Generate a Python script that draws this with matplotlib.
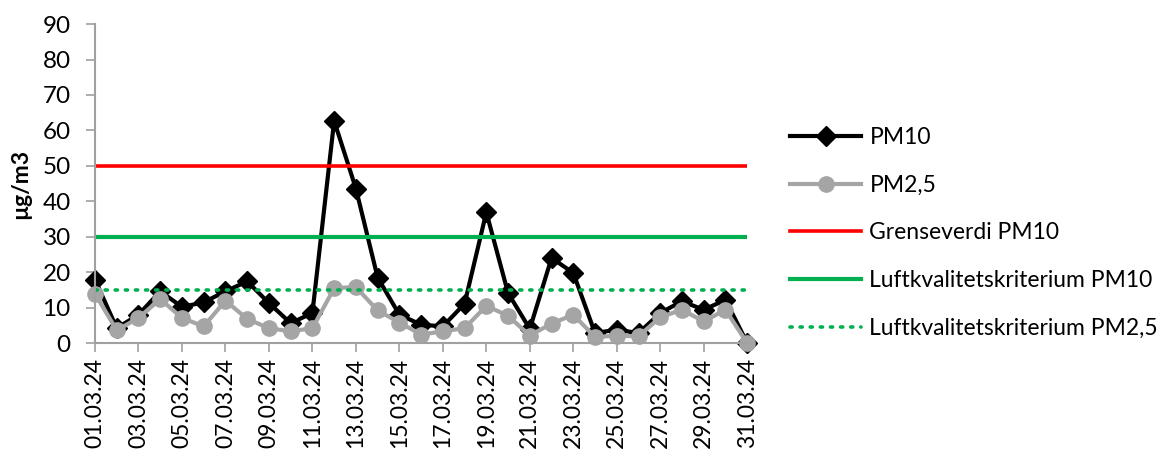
import matplotlib
matplotlib.use('Agg')
from matplotlib import pyplot as plt

plt.rcParams['font.family'] = ['Lato', 'DejaVu Sans']

# data (March 2024)
days = list(range(1, 32))
dates = ['%02d.03.24' % d for d in days]
pm10 = [17.9, 4.2, 8.0, 14.6, 10.2, 11.5, 14.6, 17.4, 11.3, 5.6,
        8.5, 62.7, 43.6, 18.5, 8.0, 5.2, 4.7, 11.1, 36.9, 14.1,
        4.0, 24.0, 19.8, 2.8, 3.8, 2.8, 8.5, 11.8, 9.4, 12.2, 0.0]
pm25 = [13.9, 3.6, 7.1, 12.4, 7.1, 4.7, 12.0, 6.8, 4.2, 3.3,
        4.2, 15.5, 15.8, 9.2, 5.8, 2.4, 3.3, 4.2, 10.5, 7.7,
        2.1, 5.5, 8.0, 1.7, 2.1, 1.9, 7.3, 9.4, 6.1, 9.4, 0.0]
grenseverdi_pm10 = 50
kriterium_pm10 = 30
kriterium_pm25 = 15

fig = plt.figure(figsize=(11.73, 4.55), dpi=100)
ax = fig.add_axes([0.081, 0.246, 0.556, 0.701])

ax.plot(days, pm10, color='black', lw=3, marker='D', ms=10, label='PM10',
        clip_on=False)
ax.plot(days, pm25, color='#A5A5A5', lw=3, marker='o', ms=11, label='PM2,5',
        clip_on=False)
ax.plot(days, [grenseverdi_pm10] * len(days), color='#FF0000', lw=2.6,
        label='Grenseverdi PM10')
ax.plot(days, [kriterium_pm10] * len(days), color='#00B050', lw=3,
        label='Luftkvalitetskriterium PM10')
ax.plot(days, [kriterium_pm25] * len(days), color='#00B050', lw=2.6,
        ls=(0, (0.6, 2.2)), dash_capstyle='round',
        label='Luftkvalitetskriterium PM2,5')

ax.set_xlim(1, 31)
ax.set_ylim(0, 90)
ax.set_yticks(range(0, 91, 10))
ax.set_xticks(days[::2])
ax.set_xticklabels(dates[::2], rotation=90)
ax.tick_params(color='#A0A0A0', direction='out', length=6.5, width=1.2)
ax.tick_params(axis='x', labelsize=16.5, pad=4)
ax.tick_params(axis='y', labelsize=17.5, pad=11)
for s in ['top', 'right']:
    ax.spines[s].set_visible(False)
for s in ['left', 'bottom']:
    ax.spines[s].set_color('#A0A0A0')
    ax.spines[s].set_linewidth(1.5)
ax.set_ylabel('µg/m3', fontsize=16.5, fontweight='bold', labelpad=8)

fig.legend(loc='center left', bbox_to_anchor=(0.666, 0.488), frameon=False,
           fontsize=16.5, handlelength=3.1, labelspacing=1.17, handletextpad=0.35,
           borderaxespad=0)

fig.savefig('out.png', dpi=100)
